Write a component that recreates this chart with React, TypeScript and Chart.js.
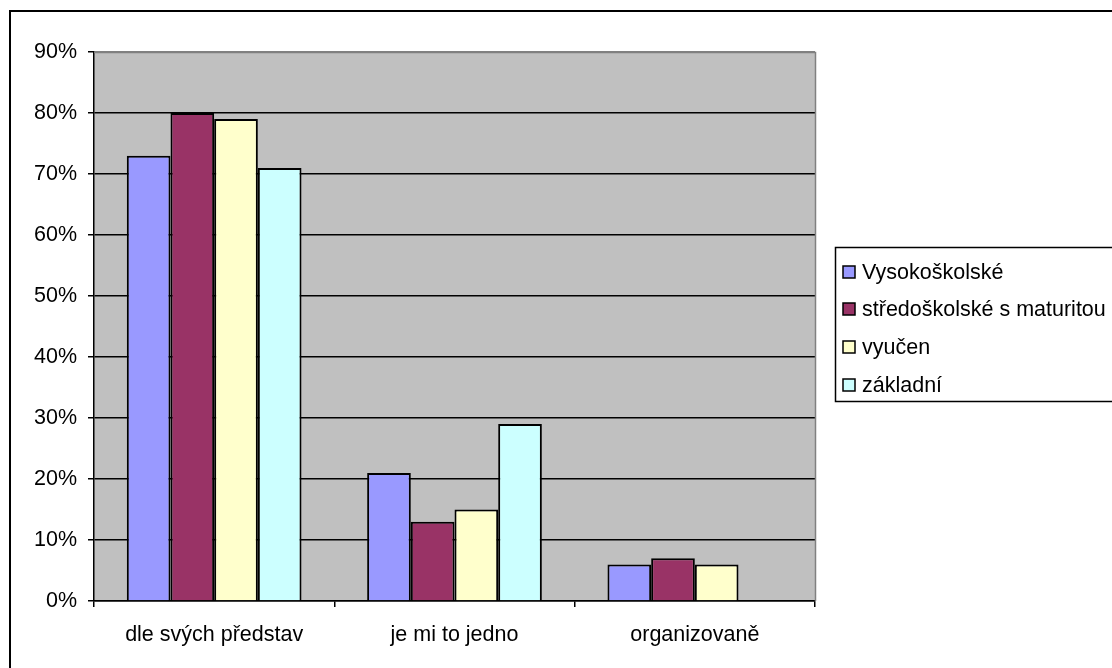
import React, { useEffect, useRef } from "react";
import { Chart, registerables } from "chart.js";

Chart.register(...registerables);

const categories = ["dle svých představ", "je mi to jedno", "organizovaně"];
const seriesNames = ["Vysokoškolské", "středoškolské s maturitou", "vyučen", "základní"];
const vysokoskolske = [73, 21, 6];
const stredoskolske = [80, 13, 7];
const vyucen = [79, 15, 6];
const zakladni = [71, 29, null];
const seriesColors = ["#9999FF", "#993366", "#FFFFCC", "#CCFFFF"];
const yTicks = [0, 10, 20, 30, 40, 50, 60, 70, 80, 90];

const FONT = "Liberation Sans, Arial, sans-serif";
const FSIZE = 21.5;

const framePlugin = {
  id: "frame",
  beforeDraw(chart: any) {
    const { ctx, chartArea } = chart;
    ctx.save();
    ctx.fillStyle = "#FFFFFF";
    ctx.fillRect(0, 0, chart.width, chart.height);
    ctx.fillStyle = "#C0C0C0";
    ctx.fillRect(chartArea.left, chartArea.top, chartArea.right - chartArea.left, chartArea.bottom - chartArea.top);
    ctx.restore();
  },
  afterDraw(chart: any) {
    const { ctx, chartArea } = chart;
    ctx.save();
    ctx.strokeStyle = "#808080";
    ctx.lineWidth = 1.5;
    ctx.beginPath();
    ctx.moveTo(chartArea.left, chartArea.top + 0.5);
    ctx.lineTo(chartArea.right + 0.5, chartArea.top + 0.5);
    ctx.lineTo(chartArea.right + 0.5, chartArea.bottom);
    ctx.stroke();
    ctx.strokeStyle = "#000000";
    ctx.lineWidth = 2;
    ctx.strokeRect(10, 11, chart.width + 20, chart.height + 20);
    const lx = 835.5, ly = 247.5, lh = 154;
    ctx.lineWidth = 1.5;
    ctx.strokeStyle = "#000000";
    ctx.fillStyle = "#FFFFFF";
    ctx.fillRect(lx, ly, chart.width, lh);
    ctx.strokeRect(lx, ly, chart.width, lh);
    ctx.font = FSIZE + "px " + FONT;
    ctx.textBaseline = "middle";
    ctx.textAlign = "left";
    const rows = [272, 309, 347, 385];
    chart.data.datasets.forEach((ds: any, i: number) => {
      const cy = rows[i];
      ctx.fillStyle = ds.backgroundColor;
      ctx.fillRect(843, cy - 6, 12, 12);
      ctx.lineWidth = 1.5;
      ctx.strokeStyle = "#000000";
      ctx.strokeRect(843, cy - 6, 12, 12);
      ctx.fillStyle = "#000000";
      ctx.fillText(ds.label, 862, cy + 1);
    });
    ctx.restore();
  },
};

export default function App() {
  const ref = useRef<HTMLCanvasElement>(null);
  useEffect(() => {
    if (!ref.current) return;
    const seriesData = [vysokoskolske, stredoskolske, vyucen, zakladni];
    const chart = new Chart(ref.current, {
      type: "bar",
      data: {
        labels: categories,
        datasets: seriesNames.map((name, i) => ({
          label: name,
          data: seriesData[i] as any,
          backgroundColor: seriesColors[i],
          borderColor: "#000000",
          borderWidth: 2,
          categoryPercentage: 0.727,
          barPercentage: 1,
        })),
      },
      options: {
        responsive: false,
        animation: false,
        layout: { padding: { left: 0, top: 52, right: 297, bottom: 0 } },
        plugins: { legend: { display: false }, tooltip: { enabled: false } },
        scales: {
          x: {
            afterFit: (s: any) => { s.height = 67; },
            grid: {
              offset: true,
              drawOnChartArea: false,
              drawTicks: true,
              tickLength: 6,
              tickColor: "#000000",
              lineWidth: 1.5,
            },
            border: { display: true, color: "#000000", width: 1.5 },
            ticks: {
              color: "#000000",
              font: { family: FONT, size: FSIZE },
              padding: 15,
              maxRotation: 0,
            },
          },
          y: {
            min: 0,
            max: 90,
            afterFit: (s: any) => { s.width = 94; },
            afterBuildTicks: (s: any) => { s.ticks = yTicks.map((v) => ({ value: v })); },
            grid: {
              color: (c: any) => (c.tick && c.tick.value === 90 ? "#808080" : "#000000"),
              tickColor: "#000000",
              tickLength: 6,
              lineWidth: 1.5,
            },
            border: { display: true, color: "#000000", width: 1.5 },
            ticks: {
              color: "#000000",
              font: { family: FONT, size: FSIZE },
              padding: 11,
              callback: (v: any) => v + "%",
            },
          },
        },
      },
      plugins: [framePlugin],
    });
    return () => chart.destroy();
  }, []);
  return (
    <div style={{ position: "fixed", left: 0, top: 0, width: 1112, height: 668 }}>
      <canvas ref={ref} width={1112} height={668} />
    </div>
  );
}
